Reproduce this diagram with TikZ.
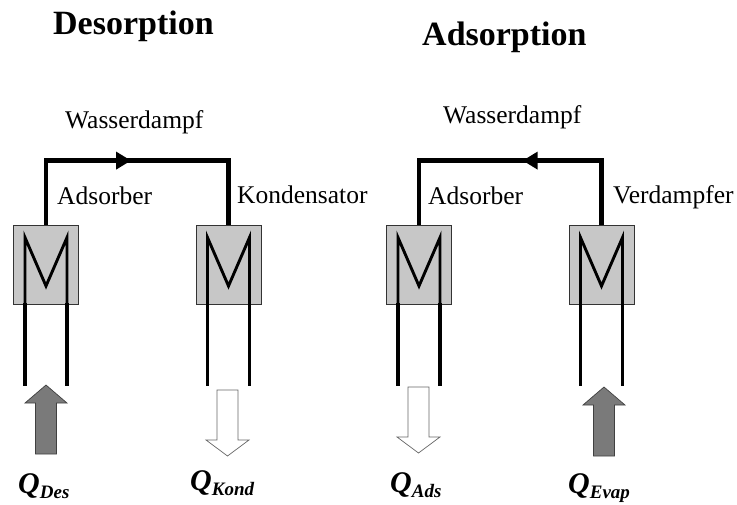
\documentclass[tikz,border=0pt]{standalone}
\usepackage{fontspec}
\setmainfont{Liberation Serif}
\usetikzlibrary{calc,arrows.meta,decorations.markings}

\tikzset{
  exchanger/.style={draw=black!80, line width=0.8pt, fill=black!22,
    minimum width=65pt, minimum height=79pt, inner sep=0pt},
  pipe/.style={line width=4.6pt, line join=miter},
  coil/.style={line width=2.9pt, line join=miter},
  leg/.style={line width=3.8pt},
  hotarrow/.style={fill=black!52, draw=black!75, line width=0.7pt},
  coldarrow/.style={fill=white, draw=black!60, line width=0.7pt},
  title/.style={inner sep=0pt, anchor=base west,
    font=\fontsize{34}{40}\selectfont\bfseries},
  label/.style={inner sep=0pt, anchor=base west,
    font=\fontsize{25.5}{30}\selectfont},
  heat/.style={inner sep=0pt, anchor=base west,
    font=\fontsize{30}{36}\selectfont\bfseries\itshape},
  flowmark/.style={postaction={decorate}, decoration={markings,
    mark=at position #1 with {\arrow{Triangle[length=15pt,width=17pt]}}}},
}
% heat flow arrows: into the exchanger (up) and out of it (down)
\tikzset{
  pics/heatin/.style={code={
    \path[hotarrow] (-10.5,0) -- (-10.5,-51) -- (-21,-51) -- (0,-69)
      -- (21,-51) -- (10.5,-51) -- (10.5,0) -- cycle;}},
  pics/heatout/.style={code={
    \path[coldarrow] (-10.5,0) -- (-10.5,50) -- (-21.5,50) -- (0,66)
      -- (21.5,50) -- (10.5,50) -- (10.5,0) -- cycle;}},
}
\newcommand{\heatlabel}[2]{#1\raisebox{-5pt}{\fontsize{19}{22}\selectfont #2}}

\begin{document}
\begin{tikzpicture}[x=1pt, y=-1pt]
  \useasboundingbox (0,0) rectangle (737,504);

  % titles
  \node[title] (tdes) at (53,34) {Desorption};
  \node[title] (tads) at (422,45) {Adsorption};

  % exchangers
  \node[exchanger] (b1) at (46,264.5) {};
  \node[exchanger] (b2) at (228.5,264.5) {};
  \node[exchanger] (b3) at (419,264.5) {};
  \node[exchanger] (b4) at (601.5,264.5) {};

  % vapour pipes
  \draw[pipe, flowmark=0.48] (b1.north) -- ++(0,-64) -| (b2.north);
  \draw[pipe, flowmark=0.46] (b4.north) -- ++(0,-64) -| (b3.north);

  % heat-exchanger coils
  \foreach \b in {b1,b2,b3,b4}{
    \draw[coil] ($(\b.south)+(-21,0)$) -- ($(\b.center)+(-21,-27)$)
      -- ($(\b.center)+(0,21.5)$) -- ($(\b.center)+(21,-27)$)
      -- ($(\b.south)+(21,0)$);
    \draw[leg] ($(\b.south)+(-21,-1)$) -- ($(\b.center)+(-21,121.5)$);
    \draw[leg] ($(\b.south)+(21,-1)$) -- ($(\b.center)+(21,121.5)$);
  }

  % heat flows
  \pic at (46,454) {heatin};
  \pic at (227.5,390) {heatout};
  \pic at (418.5,387) {heatout};
  \pic at (604,456) {heatin};

  % labels
  \node[label] (w1) at (65,128) {Wasserdampf};
  \node[label] (w2) at (443,123) {Wasserdampf};
  \node[label] (l1) at (57,204) {Adsorber};
  \node[label] (l2) at (237,203) {Kondensator};
  \node[label] (l3) at (428,204) {Adsorber};
  \node[label] (l4) at (613,203) {Verdampfer};

  \node[heat] (q1) at (18,493) {\heatlabel{Q}{Des}};
  \node[heat] (q2) at (190,490) {\heatlabel{Q}{Kond}};
  \node[heat] (q3) at (390,492) {\heatlabel{Q}{Ads}};
  \node[heat] (q4) at (568,493) {\heatlabel{Q}{Evap}};
\end{tikzpicture}
\end{document}
